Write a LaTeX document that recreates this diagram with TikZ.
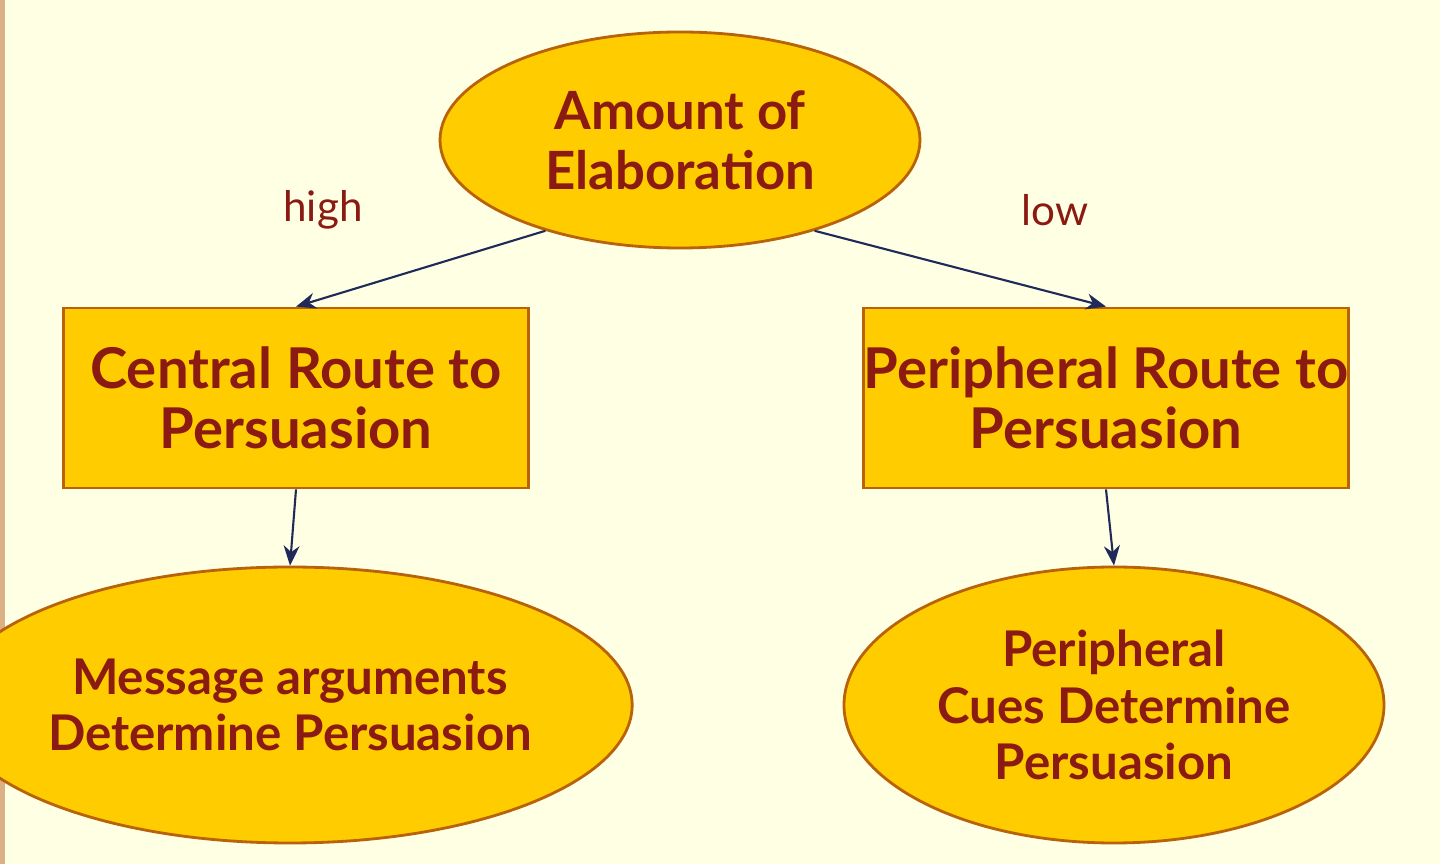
\documentclass[tikz,border=0pt]{standalone}
\usepackage{fontspec}
\setmainfont{Lato}
\usetikzlibrary{arrows.meta,positioning,shapes.geometric}
\definecolor{bgyellow}{HTML}{FFFFE3}
\definecolor{gold}{HTML}{FFCC00}
\definecolor{rim}{HTML}{B8620A}
\definecolor{ink}{HTML}{8A1A12}
\definecolor{navy}{HTML}{1F2A5A}
\tikzset{
    oval/.style={ellipse,draw=rim,fill=gold,thick,text=ink,font=\fontsize{14}{16}\selectfont\bfseries,align=center,inner sep=0pt},
    routebox/.style={rectangle,draw=rim,fill=gold,thick,text=ink,font=\fontsize{16}{17}\selectfont\bfseries,align=center,minimum width=4.65cm,minimum height=1.8cm,inner sep=0pt},
    link/.style={-{Stealth[length=2mm,width=1.6mm]},draw=navy,semithick},
    tag/.style={text=ink,font=\fontsize{12}{14}\selectfont}
}
\begin{document}
\begin{tikzpicture}
    % Background
    \fill[bgyellow] (0,0) rectangle (14.4,-8.64);
    \fill[rim!50] (0,0) rectangle (0.05,-8.64);
    \useasboundingbox (0,0) rectangle (14.4,-8.64);

    % Ovals
    \node[oval,font=\fontsize{15}{17}\selectfont\bfseries,minimum width=4.8cm,minimum height=2.16cm] (amount) at (6.8,-1.4) {Amount of\\Elaboration};
    \node[oval,minimum width=5.7cm,minimum height=2.76cm] (message) at (2.9,-7.05) {Message arguments\\Determine Persuasion};
    \node[oval,minimum width=5.4cm,minimum height=2.76cm] (cues) at (11.14,-7.05) {Peripheral\\Cues Determine\\Persuasion};

    % Boxes
    \node[routebox] (central) at (2.96,-3.98) {Central Route to\\Persuasion};
    \node[routebox,minimum width=4.66cm] (peripheral) at (11.06,-3.98) {Peripheral Route to\\Persuasion};

    % Arrows
    \draw[link] (amount.214) -- (central.north);
    \draw[link] (amount.326) -- (peripheral.north);
    \draw[link] (central.south) -- (message.north);
    \draw[link] (peripheral.south) -- (cues.north);

    % Labels
    \node[tag] (high) at (3.23,-2.1) {high};
    \node[tag] (low) at (10.55,-2.1) {low};
\end{tikzpicture}
\end{document}
